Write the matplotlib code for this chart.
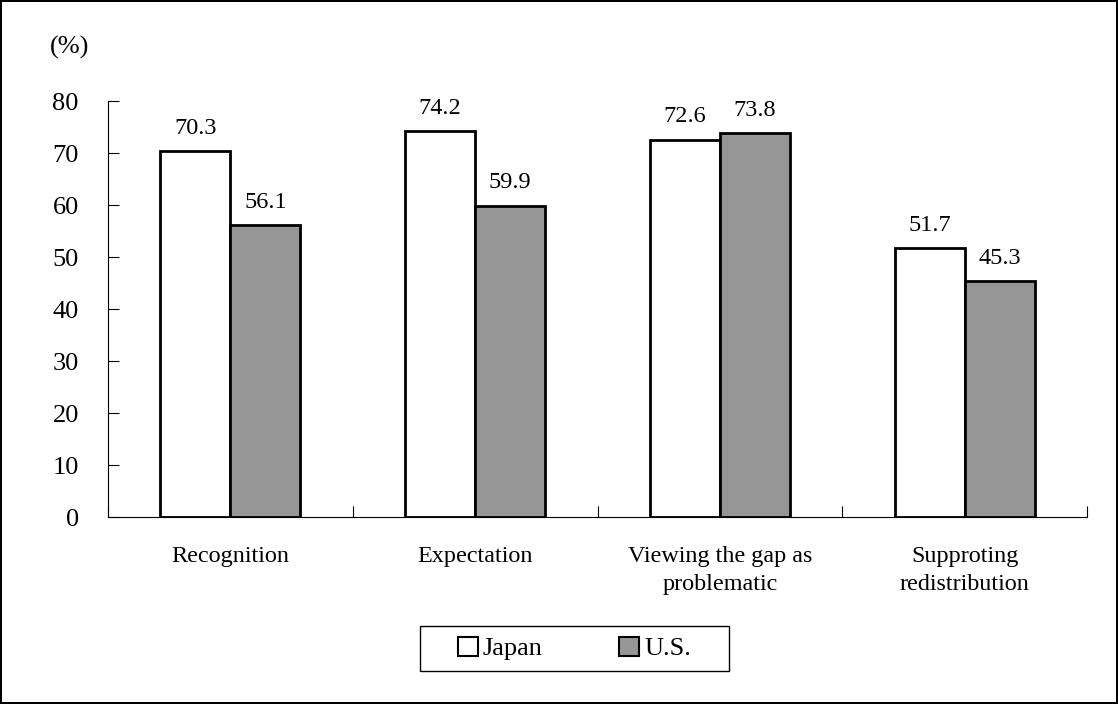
import matplotlib.pyplot as plt
import matplotlib.patches as mpatches
import numpy as np

categories = ['Recognition', 'Expectation', 'Viewing the gap as\nproblematic', 'Supproting\nredistribution']
japan = [70.3, 74.2, 72.6, 51.7]
us = [56.1, 59.9, 73.8, 45.3]

plt.rcParams['font.family'] = ['Liberation Serif', 'DejaVu Serif']

fig = plt.figure(figsize=(11.18, 7.04), dpi=100, linewidth=1.5, edgecolor='black')
ax = fig.add_axes([0.0966, 0.2656, 0.8757, 0.5909])

x = np.arange(len(categories))
w = 0.286
b1 = ax.bar(x - w / 2, japan, width=w, color='white', edgecolor='black', linewidth=2, label='Japan')
b2 = ax.bar(x + w / 2, us, width=w, color='#969696', edgecolor='black', linewidth=2, label='U.S.')

for bars, vals in [(b1, japan), (b2, us)]:
    for r, v in zip(bars, vals):
        ax.annotate(f'{v:.1f}', (r.get_x() + r.get_width() / 2, v), xytext=(0, 9),
                    textcoords='offset points', ha='center', va='bottom', fontsize=17.5)

ax.set_xlim(-0.5, len(categories) - 0.5)
ax.set_ylim(0, 80)
ax.set_yticks(range(0, 81, 10))
ax.tick_params(axis='y', direction='in', length=8, labelsize=19, pad=21)
ax.set_xticks(np.arange(len(categories) + 1) - 0.5)
ax.set_xticklabels([])
ax.tick_params(axis='x', direction='in', length=8)
ax.set_xticks(x, minor=True)
ax.set_xticklabels(categories, minor=True, fontsize=17.4, linespacing=1.45)
ax.tick_params(axis='x', which='minor', length=0, pad=21)
ax.spines['top'].set_visible(False)
ax.spines['right'].set_visible(False)

fig.text(0.045, 0.933, '(%)', fontsize=19, ha='left', va='center')

# legend frame drawn separately (wider side padding than matplotlib allows)
fig.patches.append(mpatches.Rectangle((0.3757, 0.0469), 0.2764, 0.0639, transform=fig.transFigure,
                                      facecolor='white', edgecolor='black', linewidth=1))
leg = fig.legend(loc='center', bbox_to_anchor=(0.5139, 0.0788), ncol=2, fontsize=19,
                 frameon=False, handlelength=0.75, handleheight=0.75, handletextpad=0.2,
                 columnspacing=2.9, borderpad=0.45, borderaxespad=0)
for h in leg.legend_handles:
    h.set_linewidth(1.5)

plt.savefig('out.png', dpi=100)
